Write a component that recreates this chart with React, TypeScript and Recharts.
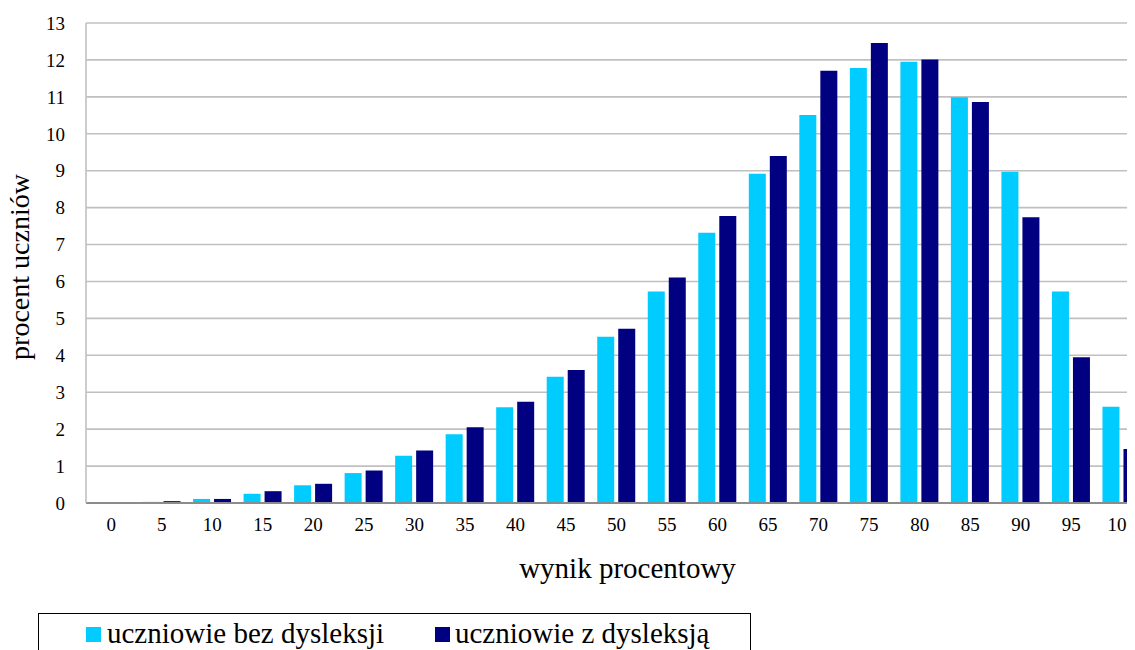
import React from "react";
import {
  Bar,
  BarChart,
  CartesianGrid,
  Legend,
  XAxis,
  YAxis,
} from "recharts";

const wyniki = ["0", "5", "10", "15", "20", "25", "30", "35", "40", "45", "50", "55", "60", "65", "70", "75", "80", "85", "90", "95", "100"];
const bezDysleksji = [0, 0.03, 0.11, 0.25, 0.48, 0.81, 1.28, 1.86, 2.59, 3.42, 4.5, 5.73, 7.32, 8.92, 10.51, 11.78, 11.95, 10.99, 8.97, 5.73, 2.61];
const zDysleksja = [0, 0.05, 0.11, 0.32, 0.52, 0.88, 1.42, 2.05, 2.74, 3.6, 4.72, 6.11, 7.77, 9.4, 11.71, 12.46, 12.01, 10.86, 7.74, 3.95, 1.46];
const yTicks = [0, 1, 2, 3, 4, 5, 6, 7, 8, 9, 10, 11, 12, 13];

const FONT = "Liberation Serif";
const LIGHT = "#00ccff";
const DARK = "#000080";

const data = wyniki.map((w, i) => ({
  wynik: w,
  bez: bezDysleksji[i],
  z: zDysleksja[i],
}));

function LegendBox() {
  return (
    <div
      style={{
        border: "1px solid #000",
        height: 60,
        boxSizing: "border-box",
        fontFamily: FONT,
        fontSize: 29,
        lineHeight: 1,
        color: "#000",
        position: "relative",
      }}
    >
      <span style={{ position: "absolute", left: 47, top: 13, width: 15, height: 15, background: LIGHT }} />
      <span style={{ position: "absolute", left: 68, top: 5, whiteSpace: "nowrap" }}>uczniowie bez dysleksji</span>
      <span style={{ position: "absolute", left: 396, top: 13, width: 15, height: 15, background: DARK }} />
      <span style={{ position: "absolute", left: 416, top: 5, whiteSpace: "nowrap" }}>uczniowie z dysleksją</span>
    </div>
  );
}

// the body keeps its 8px margin, so everything below is drawn 8px up and left
export default function App() {
  return (
    <div style={{ width: 1127, height: 642, overflow: "hidden", position: "relative", background: "#fff", fontFamily: FONT }}>
      <BarChart
        width={1170}
        height={642}
        data={data}
        margin={{ top: 15, right: 31, bottom: 117, left: 0 }}
        barSize={17}
        barGap={4}
        style={{ fontFamily: FONT }}
      >
        <CartesianGrid vertical={false} stroke="#c0c0c0" strokeWidth={1.6} />
        <XAxis
          dataKey="wynik"
          height={30}
          tickLine={false}
          tickSize={6}
          tickMargin={9}
          interval={0}
          axisLine={{ stroke: "#8c8c8c", strokeWidth: 2 }}
          tick={{ fill: "#000", fontSize: 19, fontFamily: FONT }}
          label={{
            content: (props: any) => {
              const vb = props.viewBox;
              return (
                <text
                  x={vb.x + vb.width / 2 + 11}
                  y={570}
                  textAnchor="middle"
                  fontFamily={FONT}
                  fontSize={29}
                  fill="#000"
                >
                  wynik procentowy
                </text>
              );
            },
          }}
        />
        <YAxis
          width={78}
          domain={[0, 13]}
          ticks={yTicks}
          interval={0}
          tickLine={false}
          tickSize={6}
          tickMargin={15}
          axisLine={{ stroke: "#c0c0c0", strokeWidth: 1.6 }}
          tick={{ fill: "#000", fontSize: 19, fontFamily: FONT }}
          label={{
            content: (props: any) => {
              const vb = props.viewBox;
              const cy = vb.y + vb.height / 2 + 4;
              return (
                <text
                  x={21}
                  y={cy}
                  transform={`rotate(-90 21 ${cy})`}
                  textAnchor="middle"
                  fontFamily={FONT}
                  fontSize={28}
                  fill="#000"
                >
                  procent uczniów
                </text>
              );
            },
          }}
        />
        <Legend
          verticalAlign="middle"
          layout="horizontal"
          content={() => <LegendBox />}
          wrapperStyle={{ left: 30, top: 605, width: 713, height: 60, bottom: "auto" }}
        />
        <Bar dataKey="bez" name="uczniowie bez dysleksji" fill={LIGHT} isAnimationActive={false} />
        <Bar dataKey="z" name="uczniowie z dysleksją" fill={DARK} isAnimationActive={false} />
      </BarChart>
    </div>
  );
}
